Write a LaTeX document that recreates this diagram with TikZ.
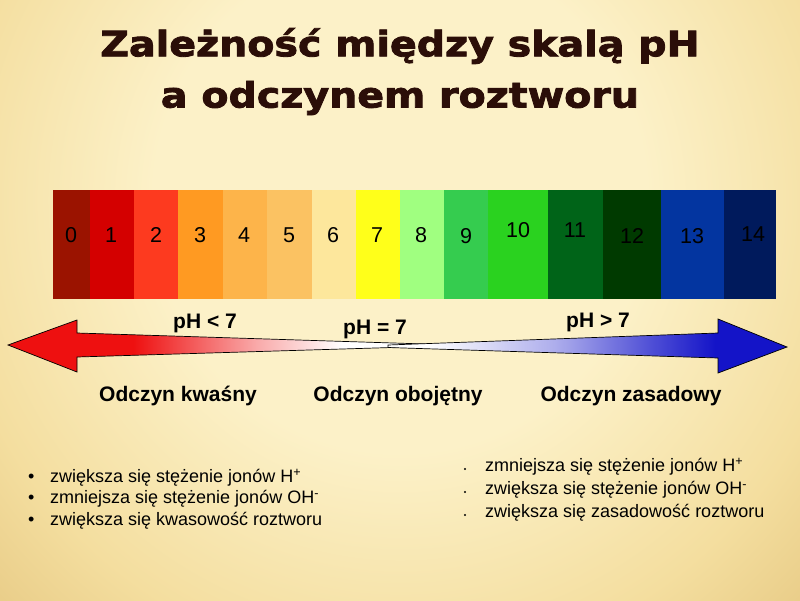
\documentclass[tikz,border=0pt]{standalone}
\usepackage{fontspec}
\setmainfont{Liberation Sans}
\newfontfamily\titlefont[FakeStretch=1.13, FakeBold=2.4]{DejaVu Sans Bold}
\usetikzlibrary{shadings}
\definecolor{bgl}{HTML}{FCF1C8}
\definecolor{bgm}{HTML}{F4DE9F}
\definecolor{bgd}{HTML}{E2C27A}
\definecolor{titlec}{HTML}{2B0E08}
\definecolor{c0}{HTML}{9B1300}
\definecolor{c1}{HTML}{D40000}
\definecolor{c2}{HTML}{FD3A1F}
\definecolor{c3}{HTML}{FF9A22}
\definecolor{c4}{HTML}{FDB44A}
\definecolor{c5}{HTML}{FBC262}
\definecolor{c6}{HTML}{FDE79C}
\definecolor{c7}{HTML}{FFFF1A}
\definecolor{c8}{HTML}{A0FF80}
\definecolor{c9}{HTML}{35CC4F}
\definecolor{c10}{HTML}{2AD21F}
\definecolor{c11}{HTML}{006418}
\definecolor{c12}{HTML}{003A00}
\definecolor{c13}{HTML}{0335A0}
\definecolor{c14}{HTML}{001A5C}
\definecolor{ared}{HTML}{EE1010}
\definecolor{ablue}{HTML}{1414C8}
\pgfdeclareradialshading{bgrad}{\pgfpoint{0bp}{0bp}}{color(0bp)=(bgl); color(14bp)=(bgl); color(26bp)=(bgm); color(36bp)=(bgd); color(50bp)=(bgd)}
\pgfdeclarehorizontalshading{redfade}{100bp}{color(0bp)=(ared); color(25bp)=(ared); color(40bp)=(ared); color(55bp)=(ared!35); color(65bp)=(white); color(100bp)=(white)}
\pgfdeclarehorizontalshading{bluefade}{100bp}{color(0bp)=(white); color(25bp)=(white); color(30bp)=(white); color(46bp)=(ablue!35); color(58bp)=(ablue!75); color(66bp)=(ablue); color(100bp)=(ablue)}
\tikzset{
  num/.style={font=\fontsize{21.5}{23}\selectfont, text=black, inner sep=0pt},
  lab/.style={font=\fontsize{21}{23}\selectfont\bfseries, text=black, inner sep=0pt},
  item/.style={font=\fontsize{18}{20}\selectfont, text=black, inner sep=0pt, anchor=west},
  ttl/.style={font=\titlefont\fontsize{35}{38}\selectfont, text=titlec, inner sep=0pt},
  arr/.style={draw=black, line width=0.7pt, line join=miter},
}
\begin{document}
\begin{tikzpicture}[x=1pt,y=-1pt]
\useasboundingbox (0,0) rectangle (800,600);
\begin{scope}
\clip (0,0) rectangle (800,600);
\shade[shading=bgrad] (-40,-250) rectangle (840,650);
\end{scope}
% title
\node[ttl] (title1) at (400,46) {Zależność między skalą pH};
\node[ttl] (title2) at (400,98) {a odczynem roztworu};
% bar
\foreach \i/\a/\b in {0/52.7/90,1/90/134,2/134/178,3/178/222.7,4/222.7/266.7,5/266.7/311.7,6/311.7/355.7,7/355.7/400,8/400/444.3,9/444.3/488.3,10/488.3/547.7,11/547.7/603.3,12/603.3/661,13/661/724,14/724/776}{
  \fill[c\i] (\a,190) rectangle (\b,299);
}
\foreach \i/\x/\y in {0/71/235,1/111/235,2/156/235,3/200/235,4/244/235,5/289/235,6/333/235,7/377/235,8/421/235,9/466/236,10/518/230,11/575/230,12/632/236,13/692/236,14/753/234}{
  \node[num] (n\i) at (\x,\y) {\i};
}
% arrows
\path[arr, shading=redfade] (8,345) -- (77,320) -- (77,333) -- (425,344) -- (425,346.5) -- (77,357) -- (77,372) -- cycle;
\path[arr, shading=bluefade] (787,347) -- (718,319) -- (718,333) -- (388,345) -- (388,347.5) -- (718,358) -- (718,373) -- cycle;
% labels
\node[lab] (lt) at (205,323) {pH < 7};
\node[lab] (eq) at (375,329) {pH = 7};
\node[lab] (gt) at (598,322) {pH > 7};
\node[lab] (kw) at (178,396) {Odczyn kwaśny};
\node[lab] (ob) at (398,396) {Odczyn obojętny};
\node[lab] (za) at (631,396) {Odczyn zasadowy};
% left list
\foreach \k/\y in {1/478,2/499,3/521}{
  \node[item] (lb\k) at (28,\y) {•};
}
\node[item] (l1) at (50,478) {zwiększa się stężenie jonów H\textsuperscript{+}};
\node[item] (l2) at (50,499) {zmniejsza się stężenie jonów OH\textsuperscript{-}};
\node[item] (l3) at (50,521) {zwiększa się kwasowość roztworu};
% right list
\foreach \k/\y in {1/469,2/492,3/515}{
  \node[circle, fill=black, inner sep=0pt, minimum size=2.4pt] (rb\k) at (465,\y) {};
}
\node[item] (r1) at (485,467) {zmniejsza się stężenie jonów H\textsuperscript{+}};
\node[item] (r2) at (485,490) {zwiększa się stężenie jonów OH\textsuperscript{-}};
\node[item] (r3) at (485,513) {zwiększa się zasadowość roztworu};
\end{tikzpicture}
\end{document}
